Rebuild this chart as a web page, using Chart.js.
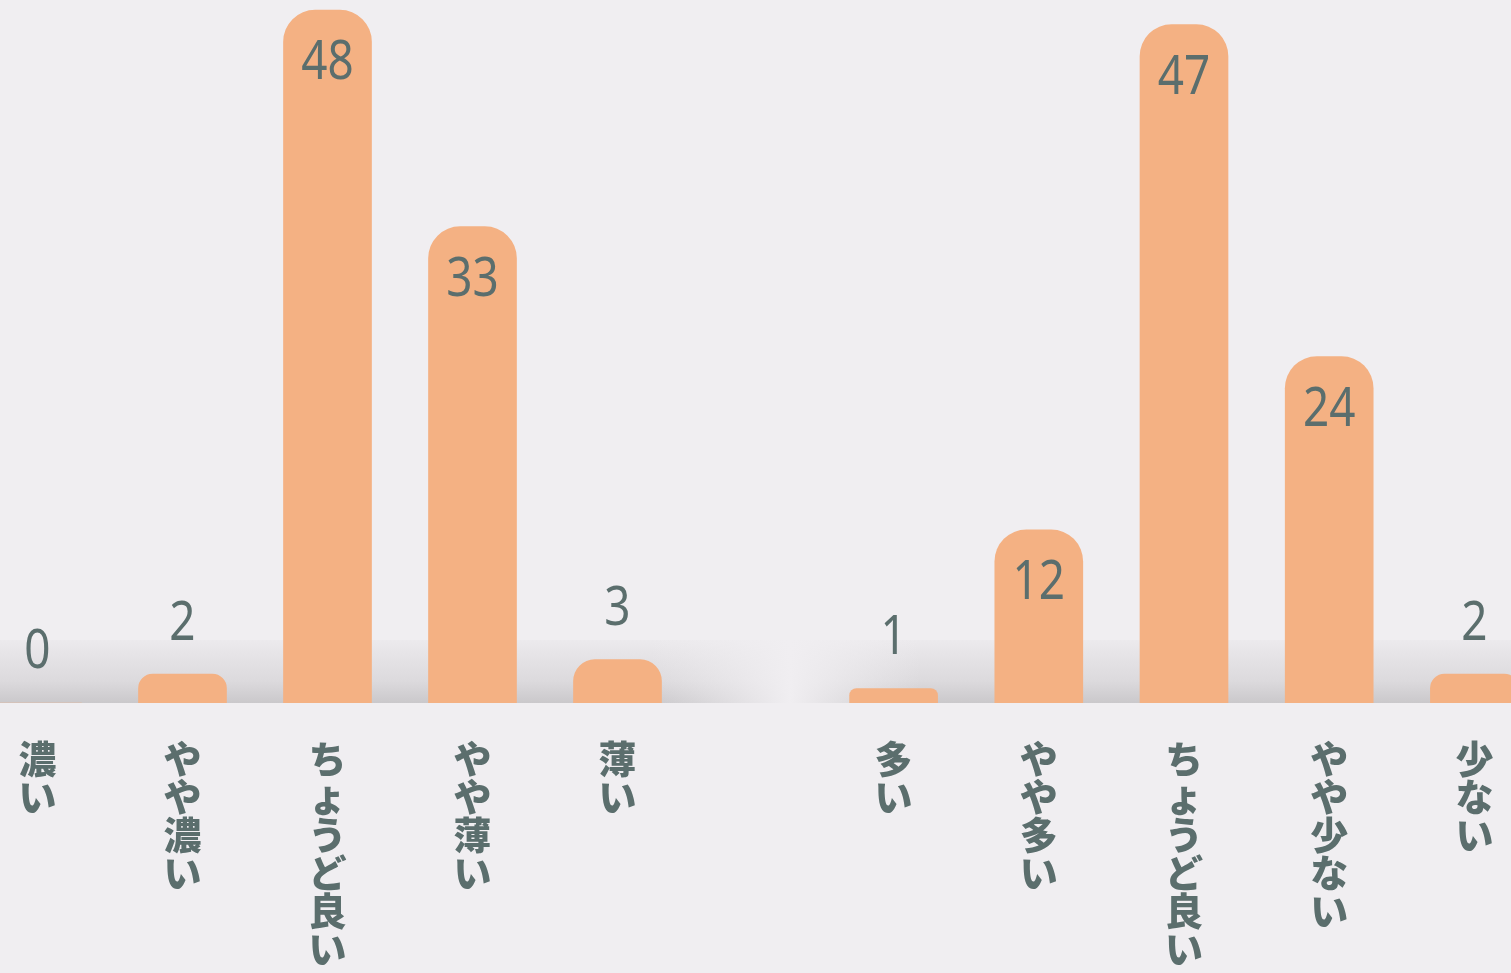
<!DOCTYPE html>
<html>
<head>
<meta charset="utf-8">
<script src="https://cdn.jsdelivr.net/npm/chart.js@4"></script>
<style>
    html, body { margin: 0; padding: 0; background: #f0eef1; overflow: hidden; }
    .caja { position: absolute; top: 0; height: 973px; }
    #cajaIzq { left: -35px; width: 725px; }
    #cajaDer { left: 821px; width: 726px; }
    #franja {
        position: absolute; left: 0; top: 640px; width: 1511px; height: 63px;
        background:
            linear-gradient(to right, rgba(240,238,241,0) 650px, rgba(240,238,241,1) 790px, rgba(240,238,241,0) 920px),
            linear-gradient(to bottom, #eceaed 0%, #e3e1e4 35%, #dcdadd 65%, #cac8cb 100%);
    }
</style>
</head>
<body>
<div id="franja"></div>
<div class="caja" id="cajaIzq"><canvas id="graficoIzq"></canvas></div>
<div class="caja" id="cajaDer"><canvas id="graficoDer"></canvas></div>
<script>
// ── DATOS ─────────────────────────────────────────────
const catsIzq = ['濃い', 'やや濃い', 'ちょうど良い', 'やや薄い', '薄い'];
const valsIzq = [0, 2, 48, 33, 3];
const catsDer = ['多い', 'やや多い', 'ちょうど良い', 'やや少ない', '少ない'];
const valsDer = [1, 12, 47, 24, 2];

const colorTexto = '#5b6e6d';
const colorBarra = '#f4b183';

// valores encima / dentro de las barras
const etiquetas = {
    id: 'etiquetas',
    afterDatasetsDraw(chart) {
        const { ctx } = chart;
        const vals = chart.data.datasets[0].data;
        ctx.save();
        ctx.font = '54px "Noto Sans"';
        ctx.fillStyle = colorTexto;
        ctx.textAlign = 'center';
        ctx.textBaseline = 'middle';
        chart.getDatasetMeta(0).data.forEach((bar, i) => {
            const v = vals[i];
            const y = v >= 10 ? bar.y + 54 : bar.y - 50;
            ctx.save();
            ctx.translate(bar.x, y);
            ctx.scale(0.85, 1);
            ctx.fillText(String(v), 0, 0);
            ctx.restore();
        });
        ctx.restore();
    }
};

function crearGrafico(id, cats, vals) {
    return new Chart(document.getElementById(id), {
        type: 'bar',
        data: {
            labels: cats.map(c => [...c]),
            datasets: [{
                data: vals,
                backgroundColor: colorBarra,
                borderRadius: 32,
                borderSkipped: 'start',
                barThickness: 88,
            }]
        },
        options: {
            responsive: true,
            maintainAspectRatio: false,
            animation: false,
            layout: { padding: 0 },
            plugins: { legend: { display: false }, tooltip: { enabled: false } },
            scales: {
                x: {
                    grid: { display: false },
                    border: { display: false },
                    afterFit: s => { s.height = 270; },
                    ticks: {
                        color: colorTexto,
                        padding: 29,
                        maxRotation: 0,
                        autoSkip: false,
                        font: { family: '"Noto Sans CJK JP"', weight: '900', size: 38, lineHeight: 1 }
                    }
                },
                y: { display: false, min: 0, max: 48.7 }
            }
        },
        plugins: [etiquetas]
    });
}

crearGrafico('graficoIzq', catsIzq, valsIzq);
crearGrafico('graficoDer', catsDer, valsDer);
</script>
</body>
</html>
